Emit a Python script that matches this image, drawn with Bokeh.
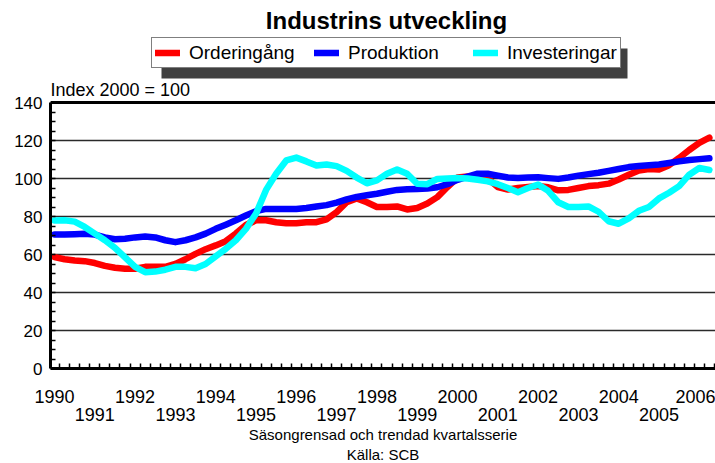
from bokeh.plotting import figure
from bokeh.models import (FixedTicker, LinearAxis, Label, Legend, LegendItem,
                          BoxAnnotation, Span, ColumnDataSource, Range1d, Title)
from bokeh.embed import file_html
from bokeh.resources import INLINE

# ---------------- data (quarterly, 1990Q1 .. 2006Q2) ----------------
first_year = 1990
series_names = ["Orderingång", "Produktion", "Investeringar"]
series_colors = ["#FF0000", "#0000FF", "#00FFFF"]

orderingang = [
    58.6, 57.5, 56.8, 56.5,      # 1990
    55.5, 54.0, 53.0, 52.5,      # 1991
    52.5, 53.5, 53.5, 53.5,      # 1992
    55.0, 57.5, 60.3, 62.8,      # 1993
    64.8, 67.0, 71.0, 75.5,      # 1994
    78.0, 78.0, 77.0, 76.5,      # 1995
    76.5, 77.0, 77.0, 78.5,      # 1996
    82.3, 87.5, 89.5, 87.5,      # 1997
    85.0, 85.0, 85.3, 83.7,      # 1998
    84.5, 86.8, 90.2, 95.5,      # 1999
    100.5, 101.0, 101.0, 100.0,  # 2000
    95.5, 94.2, 95.0, 95.5,      # 2001
    96.0, 95.4, 93.8, 94.0,      # 2002
    95.0, 96.0, 96.5, 97.3,      # 2003
    99.5, 102.0, 104.2, 105.0,   # 2004
    104.7, 107.0, 110.8, 115.0,  # 2005
    118.8, 121.5,                # 2006
]
produktion = [
    70.5, 70.5, 70.7, 70.9,
    70.5, 69.0, 68.0, 68.3,
    69.0, 69.5, 69.0, 67.5,
    66.5, 67.5, 69.0, 71.0,
    73.5, 75.7, 78.0, 80.5,
    82.8, 84.0, 84.0, 84.0,
    84.0, 84.5, 85.3, 86.0,
    87.3, 89.0, 90.3, 91.2,
    92.0, 93.0, 94.0, 94.3,
    94.5, 94.7, 95.4, 97.0,
    99.3, 101.0, 102.5, 102.5,
    101.5, 100.5, 100.3, 100.5,
    100.7, 100.2, 99.8, 100.5,
    101.5, 102.3, 103.0, 104.0,
    105.0, 106.0, 106.6, 107.0,
    107.4, 108.2, 109.0, 109.7,
    110.2, 110.6,
]
investeringar = [
    77.9, 78.0, 77.3, 74.5,
    71.0, 67.5, 63.5, 58.5,
    53.5, 50.7, 51.0, 52.0,
    53.5, 53.5, 52.8, 55.0,
    59.0, 63.0, 67.5, 73.5,
    81.5, 94.0, 102.5, 109.5,
    111.0, 109.0, 106.8, 107.4,
    106.5, 104.0, 100.5, 97.5,
    99.0, 102.5, 104.7, 102.5,
    97.2, 97.0, 99.8, 100.0,
    100.2, 100.0, 99.3, 98.5,
    97.0, 95.0, 92.8, 95.0,
    96.8, 93.5, 87.5, 85.0,
    85.0, 85.3, 82.5, 77.5,
    76.2, 79.0, 83.0, 85.0,
    89.5, 92.5, 96.0, 102.0,
    105.5, 104.5,
]
label_years = list(range(1990, 2007))
y_ticks = [0, 20, 40, 60, 80, 100, 120, 140]

title_text = "Industrins utveckling"
unit_text = "Index 2000 = 100"
note_lines = ["Säsongrensad och trendad kvartalsserie", "Källa: SCB"]

# ---------------- build ----------------
n = len(orderingang)
t = [first_year + i / 4 for i in range(n)]
src = ColumnDataSource(dict(t=t, o=orderingang, p=produktion, i=investeringar))

FONT = "Liberation Sans"
W, H = 715, 463
ML, MB = 50, 95
FH = H - MB               # frame spans from the top of the canvas to the x axis
PX_PER_UNIT = 1.9         # 140 units -> 266 px
PX_PER_YEAR = 40.3

p = figure(width=W, height=H, output_backend="svg", toolbar_location=None,
           x_range=Range1d(first_year - 4 / PX_PER_YEAR,
                           first_year + (W - ML - 4) / PX_PER_YEAR),
           y_range=Range1d(0, FH / PX_PER_UNIT),
           min_border_left=ML, min_border_right=0, min_border_top=0,
           min_border_bottom=MB)
p.outline_line_color = None
p.background_fill_color = "white"
p.border_fill_color = "white"
p.xgrid.visible = False
p.ygrid.ticker = FixedTicker(ticks=y_ticks)
p.ygrid.grid_line_color = "#2a2a2a"
p.ygrid.grid_line_width = 1.6

# y axis
ya = p.yaxis[0]
ya.ticker = FixedTicker(ticks=y_ticks, minor_ticks=list(range(0, 141, 5)))
ya.bounds = (0, 140)
ya.axis_line_width = 3
ya.axis_line_color = "black"
ya.major_tick_in = 0
ya.major_tick_out = 0
ya.minor_tick_in = 5
ya.minor_tick_out = 0
ya.minor_tick_line_color = "black"
ya.minor_tick_line_width = 1.5
ya.major_label_standoff = 8
ya.major_label_text_font = FONT
ya.major_label_text_font_size = "17px"
ya.major_label_text_color = "black"

# x axis (even years) with quarter ticks
xa = p.xaxis[0]
boundaries = [first_year - 0.125 + k / 4 for k in range(0, 67)]
xa.ticker = FixedTicker(ticks=[y for y in label_years if y % 2 == 0],
                        minor_ticks=boundaries)
xa.axis_line_width = 3
xa.axis_line_color = "black"
xa.major_tick_in = 0
xa.major_tick_out = 0
xa.minor_tick_in = 5
xa.minor_tick_out = 0
xa.minor_tick_line_color = "black"
xa.minor_tick_line_width = 1.5
xa.major_label_standoff = 21
xa.major_label_text_font = FONT
xa.major_label_text_font_size = "18px"
xa.major_label_text_color = "black"

# second row of year labels (odd years)
xa2 = LinearAxis(ticker=FixedTicker(ticks=[y for y in label_years if y % 2 == 1],
                                    minor_ticks=[]))
xa2.axis_line_color = None
xa2.major_tick_line_color = None
xa2.minor_tick_line_color = None
xa2.major_tick_in = 0
xa2.major_tick_out = 0
xa2.major_label_standoff = 2
xa2.major_label_text_font = FONT
xa2.major_label_text_font_size = "18px"
xa2.major_label_text_color = "black"
p.add_layout(xa2, "below")

for k, line in enumerate(note_lines):
    p.add_layout(Title(text=line, align="center", text_font=FONT,
                       text_font_size="15px", text_font_style="normal",
                       text_color="black", standoff=1 if k == 0 else 0,
                       offset=0), "below")

p.add_layout(Span(location=140, dimension="width", line_color="black", line_width=3))

renderers = []
for key, name, col in zip(["o", "p", "i"], series_names, series_colors):
    r = p.line(x="t", y=key, source=src, line_color=col, line_width=6.5,
               line_join="round", line_cap="round")
    renderers.append(r)

# legend shadow (screen units, relative to frame bottom-left)
shadow = BoxAnnotation(left=111, right=577, top=FH - 48, bottom=FH - 78,
                       left_units="screen", right_units="screen",
                       top_units="screen", bottom_units="screen",
                       fill_color="#404040", fill_alpha=1.0, line_color=None,
                       level="annotation")
p.add_layout(shadow)

legend = Legend(items=[LegendItem(label=nm, renderers=[r])
                       for nm, r in zip(series_names, renderers)],
                orientation="horizontal", location=(101, FH - 68),
                padding=3, margin=0, spacing=16,
                glyph_width=25, glyph_height=23, label_height=23,
                label_width=109, label_standoff=9,
                label_text_font=FONT, label_text_font_size="19px",
                label_text_color="black", label_text_baseline="middle",
                border_line_color="black", border_line_width=1,
                background_fill_color="white", background_fill_alpha=1.0)
p.add_layout(legend, "center")

p.add_layout(Label(x=336, y=FH - 20, x_units="screen", y_units="screen",
                   text=title_text, text_align="center", text_baseline="alphabetic",
                   text_font=FONT, text_font_size="24px", text_font_style="bold",
                   text_color="black"))
p.add_layout(Label(x=0, y=FH - 89, x_units="screen", y_units="screen",
                   text=unit_text, text_align="left", text_baseline="alphabetic",
                   text_font=FONT, text_font_size="18px", text_color="black"))

open("out.html", "w").write(file_html(p, INLINE))
